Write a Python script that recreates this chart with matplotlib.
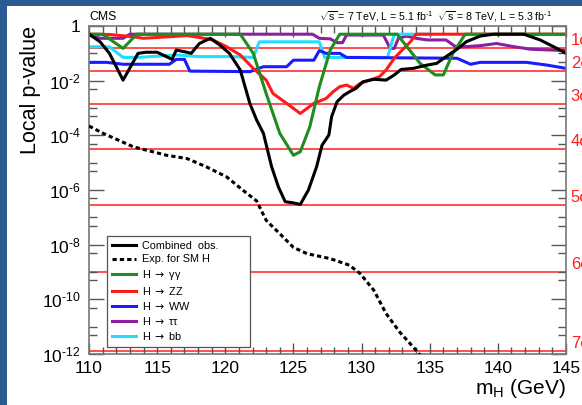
import numpy as np
import matplotlib
matplotlib.use("Agg")
import matplotlib.pyplot as plt
from matplotlib.patches import Rectangle
from matplotlib.ticker import FixedLocator, FixedFormatter, MultipleLocator, NullFormatter

plt.rcParams['font.family'] = ['Liberation Sans', 'DejaVu Sans']
plt.rcParams['mathtext.fontset'] = 'custom'
plt.rcParams['mathtext.rm'] = 'Liberation Sans'
plt.rcParams['mathtext.it'] = 'Liberation Sans:italic'
plt.rcParams['mathtext.bf'] = 'Liberation Sans:bold'
plt.rcParams['mathtext.sf'] = 'DejaVu Sans'

HY = '\u2010'  # short hyphen used in exponents

# ---- local p-values (log10) versus Higgs mass hypothesis ----
mh_obs = [110.0, 110.8, 111.5, 112.0, 112.5, 113.6, 114.2, 115.0, 116.1, 116.4,
          117.0, 117.5, 118.1, 118.9, 119.6, 120.3, 121.1, 121.8, 122.3, 122.8,
          123.4, 123.9, 124.4, 125.0, 125.5, 126.1, 126.7, 127.1, 127.6, 127.8,
          128.2, 128.7, 129.1, 129.6, 130.1, 130.9, 131.8, 132.4, 132.9, 133.8,
          134.8, 135.5, 136.2, 137.0, 137.7, 138.7, 139.7, 141.9, 143.1, 144.1,
          145.0]
logp_obs = [-0.30, -0.57, -1.00, -1.49, -1.98, -1.00, -0.96, -0.96, -1.22, -0.88,
            -0.94, -1.00, -0.64, -0.45, -0.70, -1.00, -1.61, -2.83, -3.44, -3.93,
            -5.15, -5.89, -6.43, -6.47, -6.53, -6.00, -5.15, -4.36, -3.99, -3.32,
            -2.77, -2.53, -2.41, -2.28, -2.04, -1.95, -1.98, -1.79, -1.59, -1.55,
            -1.43, -1.37, -1.12, -0.85, -0.57, -0.37, -0.30, -0.30, -0.51, -0.76,
            -1.00]

mh_exp = [110.0, 111.05, 113.25, 115.7, 117.2, 118.6, 120.1, 121.3, 122.3, 123.0,
          124.0, 125.0, 126.0, 127.7, 129.1, 129.9, 130.9, 131.8, 132.8, 133.8,
          134.4]
logp_exp = [-3.66, -3.93, -4.42, -4.73, -4.85, -5.15, -5.52, -6.01, -6.40, -7.11,
            -7.60, -8.10, -8.33, -8.51, -8.75, -9.06, -9.67, -10.52, -11.20, -11.75,
            -12.10]

mh_gg = [110.0, 111.0, 112.5, 113.5, 121.1, 122.05, 123.0, 124.0, 125.0, 125.5,
         126.2, 126.9, 127.7, 128.4, 132.6, 134.3, 135.4, 136.0, 136.7, 137.6, 145.0]
logp_gg = [-0.30, -0.30, -0.82, -0.30, -0.30, -1.00, -2.47, -3.93, -4.73, -4.60,
           -3.69, -2.22, -0.88, -0.30, -0.30, -1.37, -1.79, -1.79, -1.00, -0.30, -0.30]

mh_zz = [110.0, 111.5, 113.2, 114.0, 115.0, 116.3, 117.2, 118.1, 119.1, 120.1,
         121.1, 122.05, 123.0, 123.5, 124.5, 125.5, 126.5, 127.4, 127.9, 128.4,
         128.9, 129.4, 129.9, 130.6, 131.3, 131.8, 132.4, 133.1, 133.6, 134.0, 145.0]
logp_zz = [-0.30, -0.31, -0.39, -0.45, -0.42, -0.38, -0.35, -0.42, -0.51, -0.76,
           -1.06, -1.55, -1.98, -2.47, -2.83, -3.20, -2.83, -2.65, -2.41, -2.22,
           -2.16, -2.28, -2.10, -1.98, -1.86, -1.61, -1.18, -0.82, -0.57, -0.30, -0.30]

mh_ww = [110.0, 111.3, 112.5, 115.9, 116.4, 117.0, 117.4, 121.8, 122.8, 124.5,
         125.0, 126.5, 126.9, 127.4, 128.4, 128.9, 137.0, 138.0, 138.7, 142.1,
         143.6, 145.0]
logp_ww = [-1.33, -1.33, -1.40, -1.40, -1.22, -1.22, -1.65, -1.67, -1.49, -1.49,
           -1.25, -1.25, -0.90, -1.00, -1.00, -1.15, -1.18, -1.40, -1.33, -1.33,
           -1.43, -1.55]

mh_tt = [110.0, 110.8, 112.5, 113.0, 126.4, 126.9, 127.7, 128.2, 128.6, 128.9,
         131.6, 132.1, 132.4, 132.7, 133.3, 134.0, 134.8, 136.2, 136.9, 137.5,
         138.7, 139.9, 141.1, 142.4, 145.0]
logp_tt = [-0.30, -0.45, -0.45, -0.30, -0.30, -0.45, -0.47, -0.61, -0.61, -0.33,
           -0.33, -0.82, -0.82, -0.45, -0.37, -0.45, -0.51, -0.51, -0.76, -0.76,
           -0.72, -0.64, -0.75, -0.85, -0.90]

mh_bb = [110.0, 111.5, 112.5, 113.6, 116.4, 118.1, 120.4, 122.05, 122.5, 126.9,
         127.3, 131.9, 132.4, 135.0]
logp_bb = [-0.76, -0.76, -1.15, -1.15, -1.06, -1.12, -1.12, -1.15, -0.58, -0.58,
           -1.15, -1.15, -0.30, -0.30]

# one-sided significance thresholds
sigma_labels = ['1σ', '2σ', '3σ', '4σ', '5σ', '6σ', '7σ']
sigma_pvals = [1.587e-1, 2.275e-2, 1.350e-3, 3.167e-5, 2.867e-7, 9.866e-10, 1.280e-12]

y_major = [1, 1e-2, 1e-4, 1e-6, 1e-8, 1e-10, 1e-12]
y_major_labels = ['1'] + ['$10^{' + HY + e + '}$' for e in ('2', '4', '6', '8', '10', '12')]

legend_labels = ['Combined  obs.', 'Exp. for SM H',
                 r'H $\mathsf{\rightarrow}$ γγ', r'H $\mathsf{\rightarrow}$ ZZ',
                 r'H $\mathsf{\rightarrow}$ WW', r'H $\mathsf{\rightarrow}$ ττ',
                 r'H $\mathsf{\rightarrow}$ bb']

energy_text = (r'$\sqrt{\mathrm{s}}$ = 7 TeV, L = 5.1 fb$^{' + HY + '1}$  '
               r'$\sqrt{\mathrm{s}}$ = 8 TeV, L = 5.3 fb$^{' + HY + '1}$')

W, H = 582, 405
fig = plt.figure(figsize=(W / 100, H / 100), dpi=100)
fig.patch.set_facecolor('#2c5a92')

# white page behind the plot
bg = fig.add_axes([0, 0, 1, 1], zorder=0)
bg.set_axis_off()
bg.add_patch(Rectangle((7 / W, 0), 1, 1 - 6 / H, transform=bg.transAxes,
                       facecolor='white', edgecolor='none'))

ax = fig.add_axes([89 / W, 1 - 354 / H, (566 - 89) / W, (354 - 26) / H], zorder=2)
ax.set_facecolor('white')
ax.set_yscale('log')
ax.set_xlim(110, 145)
ax.set_ylim(1e-12, 1)

for p in sigma_pvals:
    ax.axhline(p, color='#ff1f1f', lw=1.1, zorder=1)
for lab, p in zip(sigma_labels, sigma_pvals):
    ax.text(1.01, p, lab, transform=ax.get_yaxis_transform(), color='#ff1f1f',
            fontsize=12, ha='left', va='bottom', clip_on=False)

lw = 2.2
def P(v):
    return np.power(10.0, np.asarray(v))

h_tt, = ax.plot(mh_tt, P(logp_tt), color='#8c1fa0', lw=lw, zorder=2)
h_bb, = ax.plot(mh_bb, P(logp_bb), color='#22ddff', lw=lw, zorder=2.1)
h_ww, = ax.plot(mh_ww, P(logp_ww), color='#1a1aff', lw=lw, zorder=2.2)
h_zz, = ax.plot(mh_zz, P(logp_zz), color='#ff1a1a', lw=lw, zorder=2.3)
h_gg, = ax.plot(mh_gg, P(logp_gg), color='#1f8c1f', lw=lw, zorder=2.4)
h_obs, = ax.plot(mh_obs, P(logp_obs), color='black', lw=lw, zorder=2.5)
h_exp, = ax.plot(mh_exp, P(logp_exp), color='black', lw=lw,
                 linestyle=(0, (1.4, 1.0)), zorder=2.6)

# legend box spanning a fixed region in the lower-left corner
lx0 = (107 - 89) / 477
ly0 = (354 - 347) / 328
leg = ax.legend([h_obs, h_exp, h_gg, h_zz, h_ww, h_tt, h_bb], legend_labels,
                loc='lower left', bbox_to_anchor=(lx0, ly0, (250 - 107) / 477, 0.3),
                mode='expand', fontsize=7.8,
                frameon=True, fancybox=False, edgecolor='#555555', framealpha=1,
                handlelength=2.2, handletextpad=0.6, labelspacing=0.29,
                borderpad=0.45, borderaxespad=0)
leg.get_frame().set_linewidth(0.9)

# axes frame and ticks
for s in ax.spines.values():
    s.set_color('#777777')
    s.set_linewidth(1.2)
ax.xaxis.set_major_locator(MultipleLocator(5))
ax.xaxis.set_minor_locator(MultipleLocator(1))
ax.yaxis.set_major_locator(FixedLocator(y_major))
ax.yaxis.set_major_formatter(FixedFormatter(y_major_labels))
odd_decades = [10.0 ** -k for k in (1, 3, 5, 7, 9, 11)]
fives = [5 * 10.0 ** -k for k in range(1, 13)]
ax.yaxis.set_minor_locator(FixedLocator(odd_decades + fives))
ax.yaxis.set_minor_formatter(NullFormatter())
ax.tick_params(axis='both', which='both', direction='in', top=True, right=True,
               color='#555555', width=1.0)
ax.tick_params(axis='x', which='major', length=8, pad=5, labelsize=12.5)
ax.tick_params(axis='x', which='minor', length=5)
ax.tick_params(axis='y', which='major', length=11, pad=6, labelsize=12.5)
ax.tick_params(axis='y', which='minor', length=6)

ax.set_xlabel(r'm$_{\mathrm{H}}$ (GeV)', fontsize=15, loc='right', labelpad=1)
ax.set_ylabel('Local p-value', fontsize=15.5, loc='top')
ax.yaxis.set_label_coords((41 - 89) / 477, 1.0)

fig.text(89 / W, 1 - 17 / H, 'CMS', fontsize=8.8, ha='left', va='center', zorder=3)
fig.text(552 / W, 1 - 17 / H, energy_text,
         fontsize=7.6, ha='right', va='center', zorder=3)

fig.savefig('out.png', dpi=100, facecolor=fig.get_facecolor())
